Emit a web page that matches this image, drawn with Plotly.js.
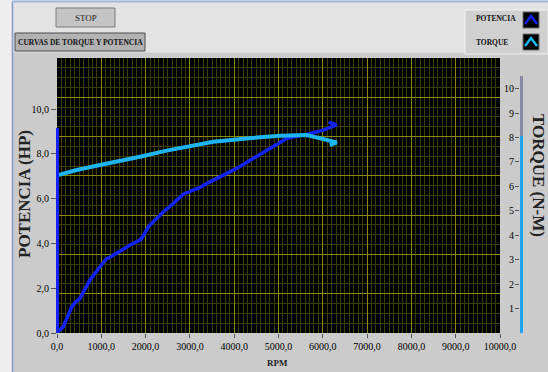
<!DOCTYPE html>
<html>
<head>
<meta charset="utf-8">
<script src="https://cdn.plot.ly/plotly-3.0.1.min.js"></script>
<style>
html,body{margin:0;padding:0;background:#cbcbcb;}
#chart{width:548px;height:372px;}
</style>
</head>
<body>
<div id="chart"></div>
<script>
// ---- data ----
const rpmTicks = [0,1000,2000,3000,4000,5000,6000,7000,8000,9000,10000];
const rpmTickLabels = ['0,0','1000,0','2000,0','3000,0','4000,0','5000,0','6000,0','7000,0','8000,0','9000,0','10000,0'];
const hpTicks = [0,2,4,6,8,10];
const hpTickLabels = ['0,0','2,0','4,0','6,0','8,0','10,0'];
const nmTicks = [0,1,2,3,4,5,6,7,8,9,10];
const nmTickLabels = ['0','1','2','3','4','5','6','7','8','9','10'];

const rpmPotencia = [20,142,331,406,519,745,970,1106,1347,1648,1874,1964,2061,2363,2625,2851,3228,3454,4056,4508,4883,5185,5636,6011,6313,6130];
const potenciaHP  = [0.05,0.28,1.17,1.35,1.55,2.37,2.96,3.29,3.56,3.93,4.15,4.38,4.75,5.34,5.79,6.2,6.5,6.75,7.35,7.87,8.32,8.69,8.87,9.06,9.29,9.42];

const rpmTorque = [20,444,970,1347,1874,2476,2928,3528,4282,5034,5636,5937,6313,6160];
const torqueNM  = [6.46,6.67,6.87,7.0,7.21,7.46,7.6,7.82,7.96,8.07,8.1,7.96,7.8,7.68];

const legendNames = ['POTENCIA','TORQUE'];
const panelTitle = 'CURVAS DE TORQUE Y POTENCIA';
const stopLabel = 'STOP';

// ---- geometry helpers (pixel -> paper) ----
const L = 57, R = 519, T = 58, B = 333, PLOT_R = 500;
const px = x => (x - L) / (R - L);
const py = y => (B - y) / (B - T);
function rect(x0,y0,x1,y1,fill,line,lw){
  return {type:'rect',xref:'paper',yref:'paper',x0:px(x0),x1:px(x1),y0:py(y1),y1:py(y0),
    fillcolor:fill,line:{color:line||fill,width:lw===undefined?1:lw},layer:'below'};
}
function seg(x0,y0,x1,y1,color,w){
  return {type:'line',xref:'paper',yref:'paper',x0:px(x0),x1:px(x1),y0:py(y0),y1:py(y1),
    line:{color:color,width:w},layer:'above'};
}
function chevron(cx,cy,color){
  const p = `M ${px(cx-6)} ${py(cy+4)} L ${px(cx)} ${py(cy-4)} L ${px(cx+6)} ${py(cy+4)}`;
  return {type:'path',xref:'paper',yref:'paper',path:p,line:{color:color,width:2.5},layer:'above'};
}

const SERIF = 'Liberation Serif, Times New Roman, serif';
const BLUE = '#1423f5';
const CYAN = '#1fb4f2';
const GRID_MAJ = '#8a8a08';
const GRID_MIN = '#3e3e00';

const traces = [
  {x:[],y:[],type:'scatter',mode:'lines',xaxis:'x',yaxis:'y3',showlegend:false,hoverinfo:'skip'},
  {x:rpmPotencia,y:potenciaHP,type:'scatter',mode:'lines',name:legendNames[0],
   line:{color:BLUE,width:3.5},xaxis:'x',yaxis:'y'},
  {x:rpmTorque,y:torqueNM,type:'scatter',mode:'lines',name:legendNames[1],
   line:{color:CYAN,width:4},xaxis:'x',yaxis:'y2'}
];

const tickFont = {family:SERIF,size:10,color:'#000'};

const layout = {
  width:548,height:372,
  margin:{l:L,r:548-R,t:T,b:372-B,pad:0},
  paper_bgcolor:'#cbcbcb',
  plot_bgcolor:'#000000',
  showlegend:false,
  xaxis:{domain:[0,(PLOT_R-L)/(R-L)],range:[0,10000],tickmode:'array',tickvals:rpmTicks,ticktext:rpmTickLabels,
    ticks:'outside',ticklen:4,tickcolor:'#555',tickfont:tickFont,showline:false,zeroline:false,
    showgrid:true,gridcolor:GRID_MAJ,gridwidth:1,
    minor:{dtick:100,showgrid:true,gridcolor:GRID_MIN,gridwidth:1,ticks:''}},
  yaxis:{range:[0,12.28],tickmode:'array',tickvals:hpTicks,ticktext:hpTickLabels,
    ticks:'outside',ticklen:5,tickcolor:'#555',tickfont:tickFont,showgrid:false,zeroline:false,showline:false},
  yaxis2:{range:[0,11.25],overlaying:'y',anchor:'free',position:1,side:'right',
    tickmode:'array',tickvals:nmTicks,ticktext:nmTickLabels,ticklabelposition:'inside',
    ticks:'inside',ticklen:4,tickcolor:'#555',tickfont:tickFont,showgrid:false,zeroline:false,showline:false},
  yaxis3:{range:[0,7],overlaying:'y',anchor:'x',side:'left',tickmode:'linear',tick0:0,dtick:1,showticklabels:false,ticks:'',
    showgrid:true,gridcolor:GRID_MAJ,gridwidth:1,zeroline:false,showline:false,
    minor:{dtick:0.25,showgrid:true,gridcolor:GRID_MIN,gridwidth:1,ticks:''}},
  shapes:[
    rect(0,0,548,52,'#e3e3e3'),
    rect(0,0,12,372,'#eeeeee'),
    seg(12.5,2,12.5,372,'#7f9ccc',1.5),
    seg(12,1.5,548,1.5,'#9fbbe0',2),
    rect(56,8,115,27,'#c4c4c4','#7a7a7a',1),
    rect(15,33,145,51,'#b2b2b2','#4d4d4d',1),
    rect(465,10,548,54,'#d0d0d0','#efefef',1),
    rect(523,12,539,28,'#000000','#6a6a6a',1),
    rect(523,34,539,50,'#000000','#6a6a6a',1),
    chevron(531,20,BLUE),
    chevron(531,42,CYAN),
    seg(521.5,76,521.5,136,'#8a8aa8',3),
    seg(521.5,136,521.5,333,'#1ea2f5',3),
    seg(57.5,128,57.5,333,BLUE,3)
  ],
  annotations:[
    {xref:'paper',yref:'paper',x:px(24),y:py(194),text:'<b>POTENCIA (HP)</b>',textangle:-90,showarrow:false,
     font:{family:SERIF,size:17,color:'#222'},xanchor:'center',yanchor:'middle'},
    {xref:'paper',yref:'paper',x:px(539),y:py(175),text:'<b>TORQUE (N-M)</b>',textangle:90,showarrow:false,
     font:{family:SERIF,size:17,color:'#222'},xanchor:'center',yanchor:'middle'},
    {xref:'paper',yref:'paper',x:px(277),y:py(363),text:'<b>RPM</b>',showarrow:false,
     font:{family:SERIF,size:9,color:'#222'},xanchor:'center',yanchor:'middle'},
    {xref:'paper',yref:'paper',x:px(85.5),y:py(17.5),text:stopLabel,showarrow:false,
     font:{family:SERIF,size:9,color:'#222'},xanchor:'center',yanchor:'middle'},
    {xref:'paper',yref:'paper',x:px(80),y:py(42),text:'<b>'+panelTitle+'</b>',showarrow:false,
     font:{family:SERIF,size:7.5,color:'#111'},xanchor:'center',yanchor:'middle'},
    {xref:'paper',yref:'paper',x:px(474),y:py(19),text:'<b>'+legendNames[0]+'</b>',showarrow:false,
     font:{family:SERIF,size:7.5,color:'#111'},xanchor:'left',yanchor:'middle'},
    {xref:'paper',yref:'paper',x:px(474),y:py(42),text:'<b>'+legendNames[1]+'</b>',showarrow:false,
     font:{family:SERIF,size:7.5,color:'#111'},xanchor:'left',yanchor:'middle'}
  ]
};

Plotly.newPlot('chart', traces, layout, {staticPlot:true,displayModeBar:false});
</script>
</body>
</html>
